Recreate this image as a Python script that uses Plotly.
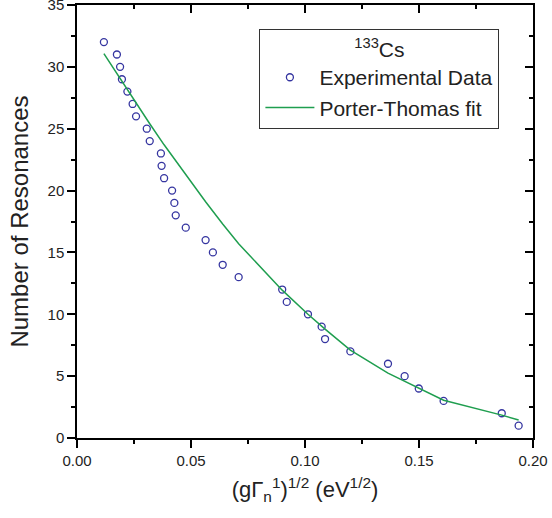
import plotly.graph_objects as go

exp_x = [0.0118, 0.0175, 0.0189, 0.0197, 0.0221, 0.0244, 0.0259, 0.0306, 0.0319, 0.0368,
         0.0371, 0.0382, 0.0417, 0.0427, 0.0433, 0.0477, 0.0564, 0.0596, 0.0639, 0.0709,
         0.0900, 0.0920, 0.1013, 0.1073, 0.1088, 0.1199, 0.1364, 0.1437, 0.1499, 0.1608,
         0.1863, 0.1937]
exp_y = [32, 31, 30, 29, 28, 27, 26, 25, 24, 23, 22, 21, 20, 19, 18, 17, 16, 15, 14, 13,
         12, 11, 10, 9, 8, 7, 6, 5, 4, 3, 2, 1]

# Porter-Thomas fit curve
fit_x = [0.0118, 0.0197, 0.0259, 0.0319, 0.0382, 0.0433, 0.0477, 0.0564, 0.0639, 0.0709,
         0.0900, 0.1013, 0.1088, 0.1199, 0.1364, 0.1499, 0.1608, 0.1863, 0.1937]
fit_y = [31.07, 28.8, 27.1, 25.4, 23.7, 22.4, 21.3, 19.1, 17.3, 15.7,
         11.95, 10.0, 8.8, 7.1, 5.25, 4.0, 3.05, 1.85, 1.45]

x_ticks = [0.0, 0.05, 0.10, 0.15, 0.20]
x_ticklabels = ["0.00", "0.05", "0.10", "0.15", "0.20"]
y_ticks = [0, 5, 10, 15, 20, 25, 30, 35]

FONT = "Liberation Sans, Arial, sans-serif"
TXT = "#222222"
BLUE = "#3535a0"
GREEN = "#1f9e4f"

fig = go.Figure()
fig.add_trace(go.Scatter(
    x=exp_x, y=exp_y, mode="markers", name="Experimental Data",
    marker=dict(symbol="circle-open", size=7, color=BLUE, line=dict(width=1.3, color=BLUE)),
))
fig.add_trace(go.Scatter(
    x=fit_x, y=fit_y, mode="lines", name="Porter-Thomas fit",
    line=dict(color=GREEN, width=1.5),
))
# helper trace for the top/right tick axes
fig.add_trace(go.Scatter(x=[0.1], y=[10], xaxis="x2", yaxis="y2", mode="markers",
                         marker=dict(opacity=0), showlegend=False, hoverinfo="skip"))

axis_common = dict(showgrid=False, zeroline=False, showline=True, linecolor="black",
                   linewidth=1.5, tickcolor="black", tickwidth=1.5, automargin=False)

fig.update_layout(
    width=552, height=518,
    margin=dict(l=77, r=19, t=5, b=80),
    paper_bgcolor="white", plot_bgcolor="white",
    font=dict(family=FONT, color=TXT),
    showlegend=True,
    xaxis=dict(
        **axis_common, range=[0, 0.2], mirror=True,
        tickvals=x_ticks, ticktext=x_ticklabels, ticks="outside", ticklen=8,
        tickfont=dict(size=15, family=FONT, color=TXT),
        minor=dict(dtick=0.025, tick0=0, ticks="outside", ticklen=4, tickcolor="black", tickwidth=1.5),
        title=dict(text="(gΓ<sub>n</sub><sup>1</sup>)<sup>1/2</sup> (eV<sup>1/2</sup>)",
                   font=dict(size=22, family=FONT, color=TXT), standoff=14),
    ),
    yaxis=dict(
        **axis_common, range=[0, 35], mirror=True,
        tickvals=y_ticks, ticks="outside", ticklen=8, ticklabeloverflow="allow",
        tickfont=dict(size=15, family=FONT, color=TXT),
        minor=dict(dtick=2.5, tick0=0, ticks="outside", ticklen=4, tickcolor="black", tickwidth=1.5),
        title=dict(text="Number of Resonances", font=dict(size=24, family=FONT, color=TXT),
                   standoff=12),
    ),
    xaxis2=dict(
        **axis_common, range=[0, 0.2], overlaying="x", side="top", anchor="y",
        tickvals=x_ticks, ticks="inside", ticklen=8, showticklabels=False,
        minor=dict(dtick=0.025, tick0=0, ticks="inside", ticklen=4, tickcolor="black", tickwidth=1.5),
    ),
    yaxis2=dict(
        **axis_common, range=[0, 35], overlaying="y", side="right", anchor="x2",
        tickvals=y_ticks, ticks="inside", ticklen=8, showticklabels=False,
        minor=dict(dtick=2.5, tick0=0, ticks="inside", ticklen=4, tickcolor="black", tickwidth=1.5),
    ),
    legend=dict(
        x=0.40, y=0.945, xanchor="left", yanchor="top",
        bgcolor="white", bordercolor="#333333", borderwidth=1,
        font=dict(size=21, family=FONT, color=TXT),
        itemwidth=49, tracegroupgap=0,
        title=dict(text="<sup>133</sup>Cs", side="top center",
                   font=dict(size=21, family=FONT, color=TXT)),
    ),
)

fig.write_html("out.html")
